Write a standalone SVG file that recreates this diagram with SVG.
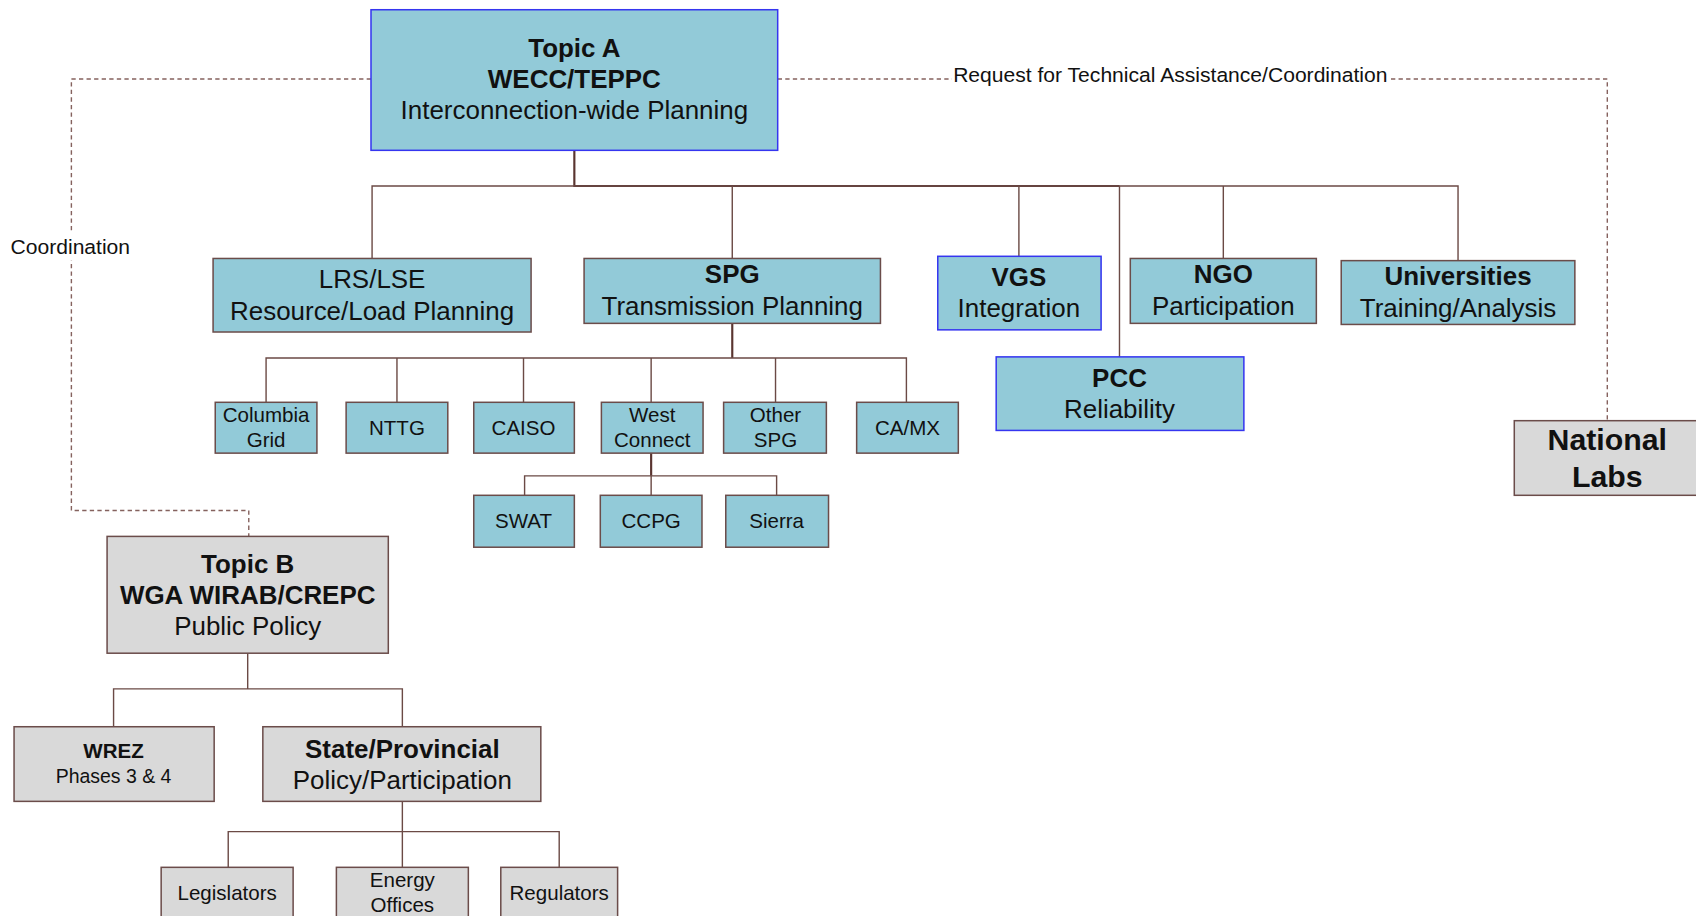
<svg xmlns="http://www.w3.org/2000/svg" width="1696" height="916" viewBox="0 0 1696 916">
<style>
.bl{fill:#92CAD8;stroke:#6B4C4A;stroke-width:1.4}
.bb{fill:#92CAD8;stroke:#3535F0;stroke-width:1.4}
.gr{fill:#D9D9D9;stroke:#6B4C4A;stroke-width:1.4}
text{font-family:"Liberation Sans",Arial,sans-serif;fill:#111;text-anchor:middle}
.b{font-weight:bold}
.f24{font-size:24px}
.f19{font-size:19px}
.f18{font-size:18px}
.f195{font-size:19.5px}
.f28{font-size:28px}
.ln{fill:none;stroke:#6B4A45;stroke-width:1.3}
.dk{fill:none;stroke:#5A3530;stroke-width:2}
.ds{fill:none;stroke:#85625E;stroke-width:1.3;stroke-dasharray:4 3}
</style>
<rect width="1696" height="916" fill="#fff"/>
<g transform="scale(1.08163,1.08146)">
<g id="connectors">
<path class="ds" d="M343 73 H66 V472 H230 V496"/>
<path class="ds" d="M719 73 H1486 V389"/>
<rect x="8" y="215" width="115" height="26" fill="#fff"/>
<rect x="880" y="58" width="404" height="22" fill="#fff"/>
<text class="f195" x="65" y="235">Coordination</text>
<text class="f195" x="1082" y="75.5">Request for Technical Assistance/Coordination</text>
<path class="dk" d="M531 139 V172 H1035"/>
<path class="ln" d="M344 239 V172 H1348 V241"/>
<path class="ln" d="M677 172 V239 M942 172 V237 M1035 172 V330 M1131 172 V239"/>
<path class="dk" d="M677 299 V331"/>
<path class="ln" d="M246 372 V331 H838 V372 M367 331 V372 M484 331 V372 M602 331 V372 M717 331 V372"/>
<path class="dk" d="M602 419 V440"/>
<path class="ln" d="M485 458 V440 H718 V458 M602 440 V458"/>
<path class="ln" d="M229 604 V637 M105 672 V637 H372 V672"/>
<path class="ln" d="M372 741 V769 M211 802 V769 H517 V802 M372 769 V802"/>
</g>
<g id="topicA"><rect class="bb" x="343" y="9" width="376" height="130"/>
<text class="b f24" x="531" y="52.5">Topic A</text><text class="b f24" x="531" y="81.5">WECC/TEPPC</text><text class="f24" x="531" y="110.5">Interconnection-wide Planning</text></g>
<g id="lrs"><rect class="bl" x="197" y="239" width="294" height="68"/>
<text class="f24" x="344" y="266.5">LRS/LSE</text><text class="f24" x="344" y="295.5">Resource/Load Planning</text></g>
<g id="spg"><rect class="bl" x="540" y="239" width="274" height="60"/>
<text class="b f24" x="677" y="261.5">SPG</text><text class="f24" x="677" y="291.5">Transmission Planning</text></g>
<g id="vgs"><rect class="bb" x="867" y="237" width="151" height="68"/>
<text class="b f24" x="942" y="264.5">VGS</text><text class="f24" x="942" y="293.5">Integration</text></g>
<g id="ngo"><rect class="bl" x="1045" y="239" width="172" height="60"/>
<text class="b f24" x="1131" y="261.5">NGO</text><text class="f24" x="1131" y="291.5">Participation</text></g>
<g id="universities"><rect class="bl" x="1240" y="241" width="216" height="59"/>
<text class="b f24" x="1348" y="263.5">Universities</text><text class="f24" x="1348" y="293.5">Training/Analysis</text></g>
<g id="pcc"><rect class="bb" x="921" y="330" width="229" height="68"/>
<text class="b f24" x="1035" y="357.5">PCC</text><text class="f24" x="1035" y="386.5">Reliability</text></g>
<g id="nationalLabs"><rect class="gr" x="1400" y="389" width="180" height="69"/>
<text class="b f28" x="1486" y="416">National</text><text class="b f28" x="1486" y="450">Labs</text></g>
<g id="columbiaGrid"><rect class="bl" x="199" y="372" width="94" height="47"/>
<text class="f19" x="246" y="390">Columbia</text><text class="f19" x="246" y="413">Grid</text></g>
<g id="nttg"><rect class="bl" x="320" y="372" width="94" height="47"/><text class="f19" x="367" y="402">NTTG</text></g>
<g id="caiso"><rect class="bl" x="438" y="372" width="93" height="47"/><text class="f19" x="484" y="402">CAISO</text></g>
<g id="westConnect"><rect class="bl" x="556" y="372" width="94" height="47"/>
<text class="f19" x="603" y="390">West</text><text class="f19" x="603" y="413">Connect</text></g>
<g id="otherSpg"><rect class="bl" x="669" y="372" width="95" height="47"/>
<text class="f19" x="717" y="390">Other</text><text class="f19" x="717" y="413">SPG</text></g>
<g id="camx"><rect class="bl" x="792" y="372" width="94" height="47"/><text class="f19" x="839" y="402">CA/MX</text></g>
<g id="swat"><rect class="bl" x="438" y="458" width="93" height="48"/><text class="f19" x="484" y="488">SWAT</text></g>
<g id="ccpg"><rect class="bl" x="555" y="458" width="94" height="48"/><text class="f19" x="602" y="488">CCPG</text></g>
<g id="sierra"><rect class="bl" x="671" y="458" width="95" height="48"/><text class="f19" x="718" y="488">Sierra</text></g>
<g id="topicB"><rect class="gr" x="99" y="496" width="260" height="108"/>
<text class="b f24" x="229" y="529.5">Topic B</text><text class="b f24" x="229" y="558.5">WGA WIRAB/CREPC</text><text class="f24" x="229" y="587.5">Public Policy</text></g>
<g id="wrez"><rect class="gr" x="13" y="672" width="185" height="69"/>
<text class="b f19" x="105" y="701">WREZ</text><text class="f18" x="105" y="724">Phases 3 &amp; 4</text></g>
<g id="stateProvincial"><rect class="gr" x="243" y="672" width="257" height="69"/>
<text class="b f24" x="372" y="700.5">State/Provincial</text><text class="f24" x="372" y="729.5">Policy/Participation</text></g>
<g id="legislators"><rect class="gr" x="149" y="802" width="122" height="60"/><text class="f19" x="210" y="832">Legislators</text></g>
<g id="energyOffices"><rect class="gr" x="311" y="802" width="122" height="60"/>
<text class="f19" x="372" y="820">Energy</text><text class="f19" x="372" y="843">Offices</text></g>
<g id="regulators"><rect class="gr" x="463" y="802" width="108" height="60"/><text class="f19" x="517" y="832">Regulators</text></g>
</g>
</svg>
